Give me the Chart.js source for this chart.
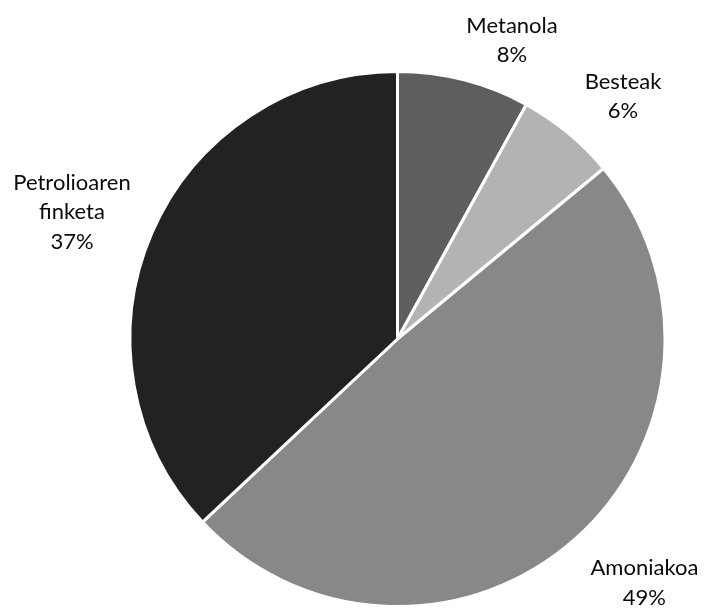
<!DOCTYPE html>
<html>
<head>
<meta charset="utf-8">
<script src="https://cdn.jsdelivr.net/npm/chart.js@4"></script>
<style>
html,body{margin:0;padding:0;background:#fff;}
#wrap{width:706px;height:608px;position:relative;}
</style>
</head>
<body>
<div id="wrap"><canvas id="c" width="706" height="608"></canvas></div>
<script>
const categories = ["Metanola", "Besteak", "Amoniakoa", "Petrolioaren finketa"];
const labelLines = [["Metanola"], ["Besteak"], ["Amoniakoa"], ["Petrolioaren", "finketa"]];
const values = [8, 6, 49, 37];
const colors = ["#5e5e5e", "#b3b3b3", "#888888", "#222222"];
// label block center offsets from the slice's outer mid-point (styling)
const labelOffsets = [[48, -40], [55, -37], [70, 43], [-80, -21]];

const labelPlugin = {
  id: 'outLabels',
  afterDatasetsDraw(chart) {
    const ctx = chart.ctx;
    const meta = chart.getDatasetMeta(0);
    const total = values.reduce((a, b) => a + b, 0);
    ctx.save();
    ctx.font = '22px Lato';
    ctx.fillStyle = '#0a0a0a';
    ctx.textAlign = 'center';
    ctx.textBaseline = 'alphabetic';
    const lh = 29.5, capH = 15;
    meta.data.forEach((arc, i) => {
      const p = arc.getProps(['x', 'y', 'startAngle', 'endAngle', 'outerRadius'], true);
      const mid = (p.startAngle + p.endAngle) / 2;
      const ex = p.x + Math.cos(mid) * p.outerRadius;
      const ey = p.y + Math.sin(mid) * p.outerRadius;
      const cx = ex + labelOffsets[i][0];
      const cy = ey + labelOffsets[i][1];
      const lines = labelLines[i].concat([Math.round(values[i] / total * 100) + '%']);
      const n = lines.length;
      lines.forEach((t, j) => {
        const by = cy - (n - 1) * lh / 2 + j * lh + capH / 2;
        ctx.fillText(t, cx, by);
      });
    });
    ctx.restore();
  }
};

new Chart(document.getElementById('c'), {
  type: 'pie',
  data: {
    labels: categories,
    datasets: [{
      data: values,
      backgroundColor: colors,
      borderColor: '#ffffff',
      borderWidth: 3
    }]
  },
  options: {
    responsive: false,
    animation: false,
    layout: { padding: { top: 70, bottom: 0, left: 128.5, right: 39.5 } },
    plugins: { legend: { display: false }, tooltip: { enabled: false } }
  },
  plugins: [labelPlugin]
});
</script>
</body>
</html>
